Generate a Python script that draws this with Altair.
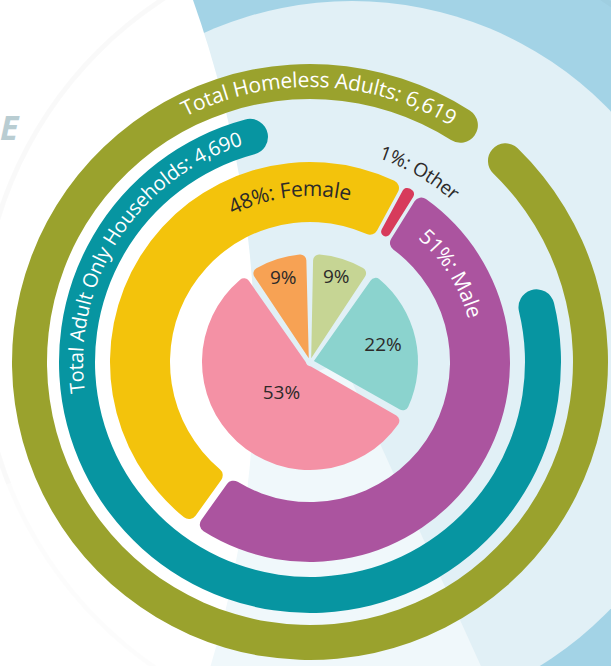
import math
import altair as alt
import pandas as pd

# ---------------- data ----------------
ring_names = ["Total Homeless Adults", "Total Adult Only Households"]
ring_values = [6619, 4690]
ring_start_deg = [40.6, 72.0]     # where each ring starts (clockwise from 12 o'clock)
ring_end_deg = [396.0, 349.5]     # where each ring ends

gender_names = ["Male", "Female", "Other"]
gender_pct = [51, 48, 1]

slice_names = ["Group A", "Group B", "Group C", "Group D"]
slice_pct = [9, 9, 22, 53]

# ---------------- styles ----------------
OLIVE, TEAL = "#9aa22d", "#0795a1"
GENDER_COLORS = ["#ab549f", "#f3c30c", "#d73b5b"]
SLICE_COLORS = ["#f7a254", "#c6d594", "#8bd3ce", "#f491a5"]
DARK = "#2c2a29"
FONT = "Open Sans"
CX, CY = 310, 362
TAU = 2 * math.pi

# approximate glyph advance widths (em) used to lay text along arcs
GLYPH = {" ": .26, "%": .83, ",": .245, ":": .266, "A": .633, "F": .543, "H": .739,
         "M": .886, "O": .781, "T": .544, "a": .556, "d": .613, "e": .561, "h": .614,
         "l": .266, "m": .93, "n": .614, "o": .604, "r": .408, "s": .477, "t": .353,
         "u": .614, "y": .504}


def curved(label, size, center_deg, r):
    widths = [GLYPH.get(c, .572) * size for c in label]
    total = sum(widths)
    rows, acc = [], 0.0
    for c, w in zip(label, widths):
        s = acc + w / 2 - total / 2
        acc += w
        th = math.radians(center_deg) + s / r
        rows.append({"ch": c, "th": th, "ang": math.degrees(th) % 360, "r": r})
    return pd.DataFrame(rows)


def arc_text(label, size, center_deg, r, color, weight=400):
    return alt.Chart(curved(label, size, center_deg, r)).mark_text(
        font=FONT, fontSize=size, fontWeight=weight, color=color,
        align="center", baseline="middle"
    ).encode(
        theta=alt.Theta("th:Q", scale=None),
        radius=alt.Radius("r:Q", scale=None),
        angle=alt.Angle("ang:Q", scale=None),
        text="ch:N",
        x=alt.value(CX), y=alt.value(CY),
    )


one = pd.DataFrame({"k": [0]})

# ---------------- decorative background ----------------
bg_light = alt.Chart(one).mark_arc(theta=0, theta2=TAU, radius=359, color="#e1f0f6").encode(
    x=alt.value(352), y=alt.value(360))
bg_white = alt.Chart(one).mark_arc(theta=0, theta2=TAU, radius=1076, color="#ffffff").encode(
    x=alt.value(-821), y=alt.value(360))
bg_shadow = alt.Chart(one).mark_arc(theta=0, theta2=TAU, radius=405, radius2=400,
                                    color="#000000", opacity=0.022).encode(
    x=alt.value(383), y=alt.value(336))
bg_band = alt.Chart(one).mark_arc(theta=math.radians(155.6), theta2=math.radians(250),
                                  radius=420, color="#ffffff", opacity=0.5).encode(
    x=alt.value(343), y=alt.value(362))
bg_stripe = alt.Chart(one).mark_arc(theta=math.radians(15.75), theta2=math.radians(16.6),
                                    radius=1430, color="#ffffff", opacity=0.35).encode(
    x=alt.value(5), y=alt.value(-1000))

# ---------------- rings ----------------
rings = pd.DataFrame({"name": ring_names, "value": ring_values,
                      "start": ring_start_deg, "end": ring_end_deg})
ring_theta = alt.Theta("start:Q", scale=alt.Scale(domain=[0, 360], range=[0, TAU]))


def ring(name, r_out, r_in, color):
    return alt.Chart(rings).transform_filter(alt.datum.name == name).mark_arc(
        radius=r_out, radius2=r_in, cornerRadius=(r_out - r_in) / 2, color=color
    ).encode(theta=ring_theta, theta2="end:Q", x=alt.value(CX), y=alt.value(CY))


olive_ring = ring(ring_names[0], 298, 263, OLIVE)
teal_ring = ring(ring_names[1], 251, 215, TEAL)

# ---------------- gender donut ----------------
gender = pd.DataFrame({"name": gender_names, "pct": gender_pct, "ord": range(len(gender_names))})
g_start = math.radians(32)
g_theta = alt.Theta("t0:Q", scale=alt.Scale(domain=[0, 100], range=[g_start, g_start + TAU]))
g_color = alt.Color("name:N", scale=alt.Scale(domain=gender_names, range=GENDER_COLORS), legend=None)
g_base = alt.Chart(gender).transform_stack(
    stack="pct", groupby=[], as_=["t0", "t1"], sort=[alt.SortField("ord", order="ascending")])

donut_main = g_base.transform_filter(alt.datum.name != "Other").mark_arc(
    radius=200, radius2=140, padAngle=0.029, cornerRadius=8
).encode(theta=g_theta, theta2="t1:Q", color=g_color, x=alt.value(CX), y=alt.value(CY))
donut_other = g_base.transform_filter(alt.datum.name == "Other").mark_arc(
    radius=200, radius2=146, padAngle=0, cornerRadius=5
).encode(theta=g_theta, theta2="t1:Q", color=g_color, x=alt.value(CX), y=alt.value(CY))

# ---------------- inner pie ----------------
slices = pd.DataFrame({"name": slice_names, "pct": slice_pct, "ord": range(len(slice_names))})
p_start = math.radians(325)
p_scale = alt.Scale(domain=[0, sum(slice_pct)], range=[p_start, p_start + TAU])
p_base = alt.Chart(slices).transform_stack(
    stack="pct", groupby=[], as_=["t0", "t1"], sort=[alt.SortField("ord", order="ascending")])
pie = p_base.mark_arc(radius=108, radius2=4, padAngle=0.065, cornerRadius=6).encode(
    theta=alt.Theta("t0:Q", scale=p_scale), theta2="t1:Q",
    color=alt.Color("name:N", scale=alt.Scale(domain=slice_names, range=SLICE_COLORS), legend=None),
    x=alt.value(CX), y=alt.value(CY))
pie_labels = p_base.transform_calculate(
    mid="(datum.t0 + datum.t1) / 2",
    lr="98 - 1.05 * datum.pct",
    lab="datum.pct + '%'",
).mark_text(font=FONT, fontSize=19, fontWeight=400, color=DARK).encode(
    theta=alt.Theta("mid:Q", scale=p_scale, stack=None),
    radius=alt.Radius("lr:Q", scale=None),
    text="lab:N",
    x=alt.value(CX), y=alt.value(CY))

# ---------------- curved labels ----------------
t_homeless = arc_text(f"{ring_names[0]}: {ring_values[0]:,}", 21, 2.0, 281, "#ffffff")
t_households = arc_text(f"{ring_names[1]}: {ring_values[1]:,}", 20, 302.6, 233, "#ffffff")
t_female = arc_text(f"{gender_pct[1]}%: {gender_names[1]}", 21, -6.9, 172, DARK)
t_other = arc_text(f"{gender_pct[2]}%: {gender_names[2]}", 19, 30.0, 221, DARK)
t_male = arc_text(f"{gender_pct[0]}%: {gender_names[0]}", 21, 58.0, 170, "#ffffff")

big_e = alt.Chart(one).mark_text(
    text="E", font=FONT, fontSize=34, fontWeight="bold", fontStyle="italic",
    color="#b9cdd2", align="left", baseline="alphabetic"
).encode(x=alt.value(0), y=alt.value(140))

chart = alt.layer(
    bg_light, bg_white, bg_shadow, bg_band, bg_stripe,
    olive_ring, teal_ring, donut_main, donut_other, pie, pie_labels,
    t_homeless, t_households, t_female, t_other, t_male, big_e,
).resolve_scale(theta="independent", color="independent").properties(
    width=611, height=666, padding=0, autosize="none", background="#a3d3e6"
).configure_view(strokeWidth=0)

chart.save("out.html", embed_options={"renderer": "svg", "actions": False})
